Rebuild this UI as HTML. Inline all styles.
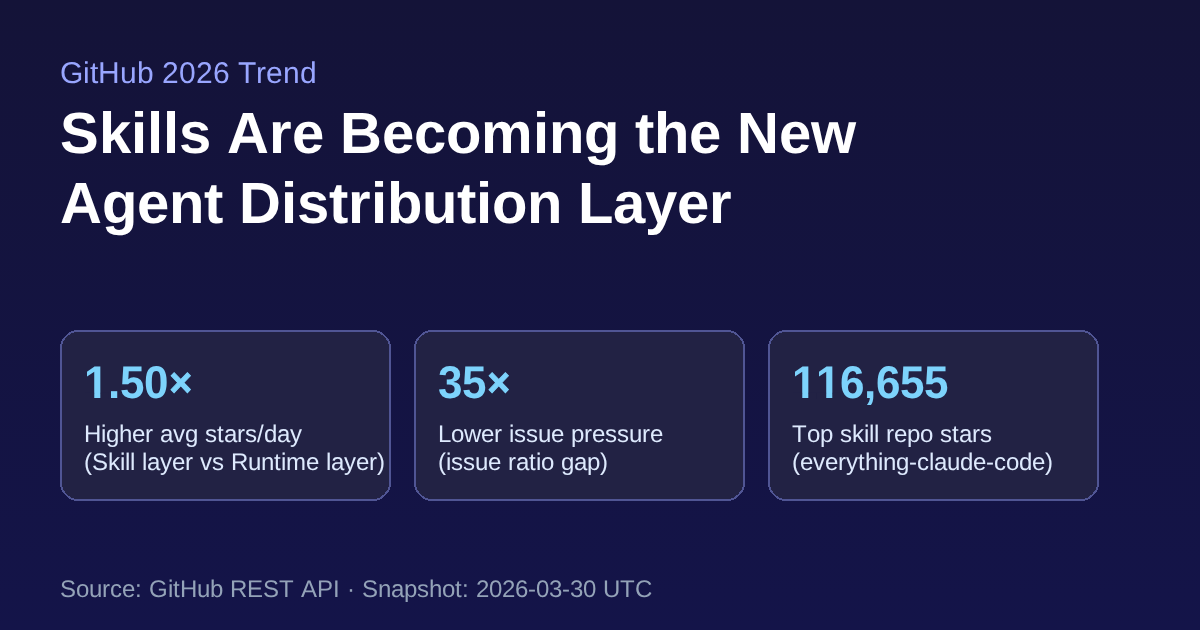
<!DOCTYPE html>
<html lang="en">
<head>
<meta charset="utf-8">
<title>Skills Are Becoming the New Agent Distribution Layer</title>
<style>
html,body{margin:0;padding:0;background:#141338;}
body{width:1200px;height:630px;overflow:hidden;}
svg{display:block;}
text{font-family:"Liberation Sans",Arial,Helvetica,sans-serif;text-rendering:geometricPrecision;}
.card{shape-rendering:crispEdges;}
</style>
</head>
<body>
<svg width="1200" height="630" viewBox="0 0 1200 630">
  <defs>
    <linearGradient id="bg" x1="0" y1="0" x2="0" y2="1">
      <stop offset="0" stop-color="#141338"/>
      <stop offset="1" stop-color="#141449"/>
    </linearGradient>
  </defs>
  <rect width="1200" height="630" fill="url(#bg)"/>

  <text x="60 83 90 98 120 137 154 162 179 196 213 230 237.98 255.97 265.97 282.97 299.97" y="83" font-size="30" fill="#99a6ff">GitHub 2026 Trend</text>
  <text x="60 99 131 147 163 179 211 226.97 268.97 291.97 323.97 339.97 381.97 413.97 445.97 480.97 532.97 548.97 583.97 618.97 634.97 653.97 688.97 720.97 736.97 778.97 810.97" y="153" font-size="58" font-weight="700" fill="#ffffff">Skills Are Becoming the New</text>
  <text x="60 102 137 169 204 223 239 281 297 329 348 371 387 422 457 476 492 527 562 578 613 645 677 709" y="223" font-size="58" font-weight="700" fill="#ffffff">Agent Distribution Layer</text>
  <g>
    <path class="card" d="M74.5 330.4H376.5C381.58 330.4 390.6 339.42 390.6 344.5V486.5C390.6 491.58 381.58 500.6 376.5 500.6H74.5C69.42 500.6 60.4 491.58 60.4 486.5V344.5C60.4 339.42 69.42 330.4 74.5 330.4Z" fill="#505594"/>
    <path class="card" d="M74.5 332.4H376.5C380.86 332.4 388.6 340.14 388.6 344.5V486.5C388.6 490.86 380.86 498.6 376.5 498.6H74.5C70.14 498.6 62.4 490.86 62.4 486.5V344.5C62.4 340.14 70.14 332.4 74.5 332.4Z" fill="#222244"/>
    <text transform="matrix(1 0 0 1.04 0 -15.92)" x="84 108 120 144" y="398" font-size="44" font-weight="700" fill="#7dd3fc">1.50<tspan x="169.4" dy="-1.77" font-size="38.5" stroke="#7dd3fc" stroke-width="1">×</tspan></text>
    <rect x="85" y="392.9" width="9.27" height="6.1" fill="#222244"/>
    <rect x="100.31" y="392.9" width="8" height="6.1" fill="#222244"/>
    <text x="84 101 106 119 132 145 153 160 173 185 198 205 217 224 237 245 257 264 277 290" y="442" font-size="24" fill="#deeafe">Higher avg stars/day</text>
    <text x="84 92 108 120 125 130 135 142 147 160 172 185 193 200 212 224 231 248 261 274 281 286 306 319 326 331 344 356 369 377" y="470" font-size="24" fill="#deeafe">(Skill layer vs Runtime layer)</text>
  </g>
  <g>
    <path class="card" d="M428.5 330.4H730.5C735.58 330.4 744.6 339.42 744.6 344.5V486.5C744.6 491.58 735.58 500.6 730.5 500.6H428.5C423.42 500.6 414.4 491.58 414.4 486.5V344.5C414.4 339.42 423.42 330.4 428.5 330.4Z" fill="#505594"/>
    <path class="card" d="M428.5 332.4H730.5C734.86 332.4 742.6 340.14 742.6 344.5V486.5C742.6 490.86 734.86 498.6 730.5 498.6H428.5C424.14 498.6 416.4 490.86 416.4 486.5V344.5C416.4 340.14 424.14 332.4 428.5 332.4Z" fill="#222244"/>
    <text transform="matrix(1 0 0 1.04 0 -15.92)" x="438 462" y="398" font-size="44" font-weight="700" fill="#7dd3fc">35<tspan x="487.4" dy="-1.77" font-size="38.5" stroke="#7dd3fc" stroke-width="1">×</tspan></text>
    <text x="438 451 464 481 494 502 509 514 526 538 551 564 571 584 592 605 617 629 642 650" y="442" font-size="24" fill="#deeafe">Lower issue pressure</text>
    <text x="438 446 451 463 475 488 501 508 516 529 536 541 554 561 574 587 600" y="470" font-size="24" fill="#deeafe">(issue ratio gap)</text>
  </g>
  <g>
    <path class="card" d="M782.5 330.4H1084.5C1089.58 330.4 1098.6 339.42 1098.6 344.5V486.5C1098.6 491.58 1089.58 500.6 1084.5 500.6H782.5C777.42 500.6 768.4 491.58 768.4 486.5V344.5C768.4 339.42 777.42 330.4 782.5 330.4Z" fill="#505594"/>
    <path class="card" d="M782.5 332.4H1084.5C1088.86 332.4 1096.6 340.14 1096.6 344.5V486.5C1096.6 490.86 1088.86 498.6 1084.5 498.6H782.5C778.14 498.6 770.4 490.86 770.4 486.5V344.5C770.4 340.14 778.14 332.4 782.5 332.4Z" fill="#222244"/>
    <text transform="matrix(1 0 0 1.04 0 -15.92)" x="792 815.97 839.97 863.97 875.97 899.97 923.97" y="398" font-size="44" font-weight="700" fill="#7dd3fc">116,655</text>
    <rect x="793" y="392.9" width="9.27" height="6.1" fill="#222244"/>
    <rect x="808.31" y="392.9" width="8" height="6.1" fill="#222244"/>
    <rect x="816.97" y="392.9" width="9.27" height="6.1" fill="#222244"/>
    <rect x="832.28" y="392.9" width="8" height="6.1" fill="#222244"/>
    <text x="792 806.95 819.95 832.95 839.95 851.95 863.95 868.95 873.95 878.95 885.95 893.95 906.95 919.95 932.95 939.95 951.95 958.95 971.95 979.95" y="442" font-size="24" fill="#deeafe">Top skill repo stars</text>
    <text x="792 800 813 825 838 846 858 865 878 883 896 909 917 929 934 947 960 973 986 994 1006 1019 1032 1045" y="470" font-size="24" fill="#deeafe">(everything-claude-code)</text>
  </g>
  <text x="60 76 89 102 110 122 135 142 149 168 173 180 197 210 223 230 247 263 279 294 300.98 316.98 332.98 339.98 346.98 354.98 361.98 377.98 390.98 403.98 416.98 428.98 441.98 454.98 461.98 468.98 475.98 488.98 501.98 514.98 527.98 535.98 548.98 561.98 569.98 582.98 595.98 602.98 619.98 634.98" y="597" font-size="24" fill="#94a3b8">Source: GitHub REST API · Snapshot: 2026-03-30 UTC</text>
</svg>
</body>
</html>
